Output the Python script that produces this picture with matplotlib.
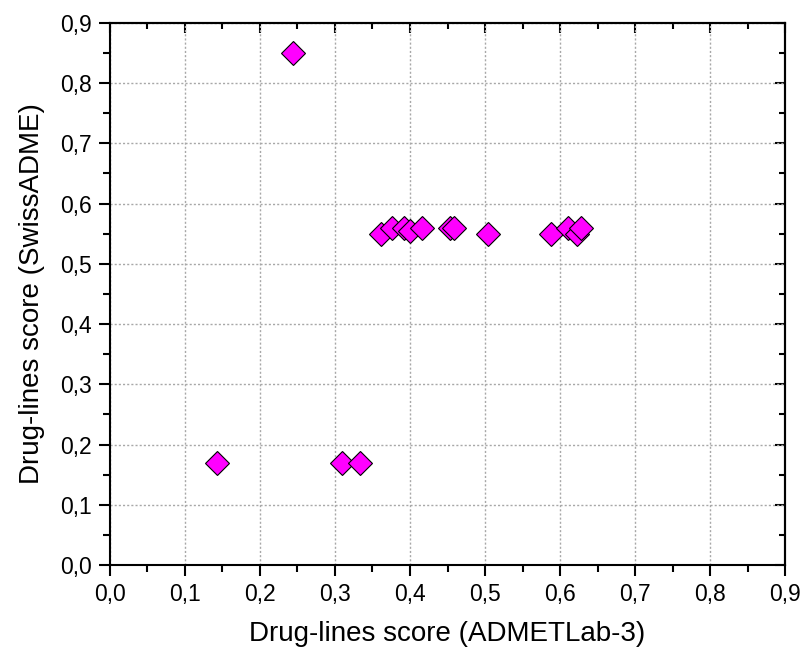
import matplotlib.pyplot as plt
from matplotlib.ticker import FuncFormatter, MultipleLocator

plt.rcParams["font.family"] = ["Liberation Sans", "DejaVu Sans"]

# ADMETLab-3 vs SwissADME drug-likeness scores
admetlab = [0.244, 0.143, 0.309, 0.334,
            0.361, 0.376, 0.392, 0.400, 0.416, 0.453, 0.459,
            0.504, 0.588, 0.610, 0.623, 0.628]
swissadme = [0.85, 0.17, 0.17, 0.17,
             0.55, 0.56, 0.56, 0.555, 0.56, 0.56, 0.56,
             0.55, 0.55, 0.56, 0.55, 0.56]

fig = plt.figure(figsize=(8.02, 6.51), dpi=100)
ax = fig.add_axes([0.137, 0.132, 0.842, 0.833])

ax.plot(admetlab, swissadme, linestyle="none", marker="D", markersize=12.5,
        markerfacecolor="#ff00ff", markeredgecolor="black", markeredgewidth=0.8,
        zorder=3)

ax.set_xlim(0, 0.9)
ax.set_ylim(0, 0.9)
comma = FuncFormatter(lambda v, _: f"{v:.1f}".replace(".", ","))
for axis in (ax.xaxis, ax.yaxis):
    axis.set_major_locator(MultipleLocator(0.1))
    axis.set_minor_locator(MultipleLocator(0.05))
    axis.set_major_formatter(comma)

ax.grid(True, which="major", color="#a8a8a8", linestyle=(0, (1.5, 1.5)), linewidth=1.0)
ax.set_axisbelow(True)

for s in ax.spines.values():
    s.set_linewidth(1.5)
ax.tick_params(which="both", direction="out", width=1.5, labelsize=16.5, pad=5)
ax.tick_params(which="major", length=8)
ax.tick_params(which="minor", length=5)

# inward ticks on top and right edges
top = ax.secondary_xaxis("top")
right = ax.secondary_yaxis("right")
for sec, axis in ((top, top.xaxis), (right, right.yaxis)):
    axis.set_major_locator(MultipleLocator(0.1))
    axis.set_minor_locator(MultipleLocator(0.05))
    sec.tick_params(which="both", direction="in", width=1.5, labelleft=False,
                    labelright=False, labeltop=False, labelbottom=False)
    sec.tick_params(which="major", length=7)
    sec.tick_params(which="minor", length=4)
    for s in sec.spines.values():
        s.set_linewidth(1.5)

ax.set_xlabel("Drug-lines score (ADMETLab-3)", fontsize=20, labelpad=11)
ax.set_ylabel("Drug-lines score (SwissADME)", fontsize=20, labelpad=11)

fig.savefig("out.png", dpi=100)
